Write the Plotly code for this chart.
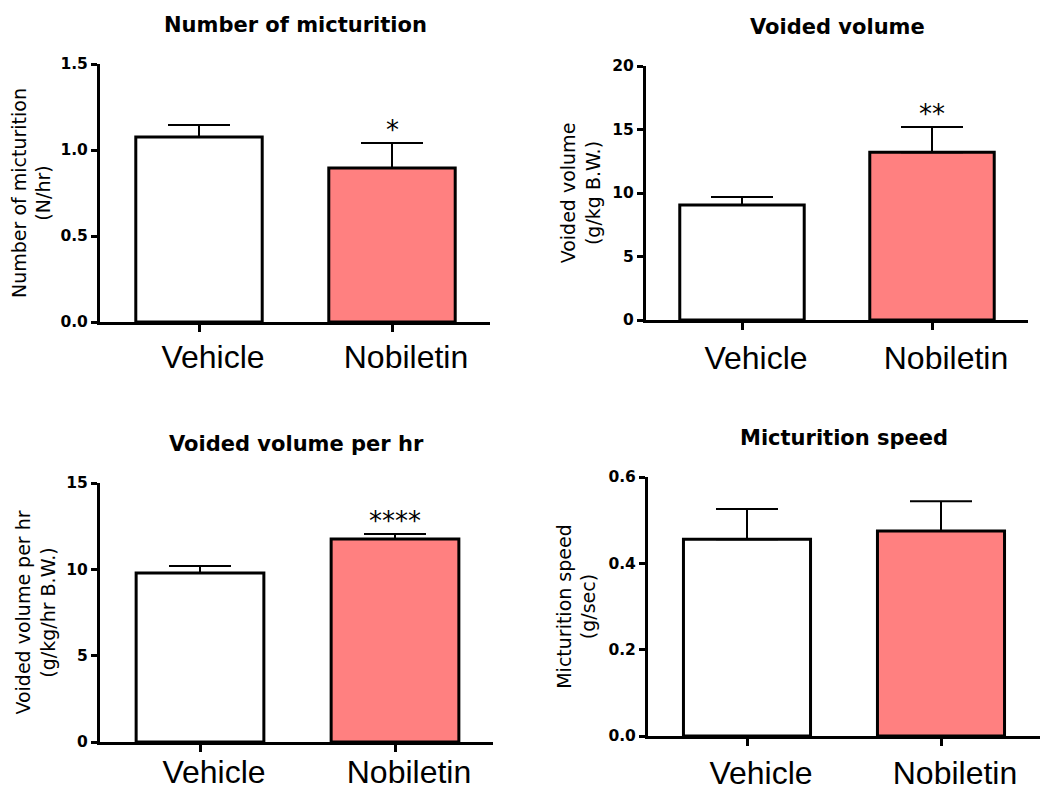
import plotly.graph_objects as go

# ---------------- data ----------------
groups = ["Vehicle", "Nobiletin"]
panel_titles = ["Number of micturition", "Voided volume",
                "Voided volume per hr", "Micturition speed"]
y_titles = ["Number of micturition<br>(N/hr)", "Voided volume<br>(g/kg B.W.)",
            "Voided volume per hr<br>(g/kg/hr B.W.)", "Micturition speed<br>(g/sec)"]

micturition_number = [1.075, 0.895]
micturition_number_err = [0.07, 0.145]
voided_volume = [9.06, 13.2]
voided_volume_err = [0.63, 2.0]
voided_volume_hr = [9.79, 11.76]
voided_volume_hr_err = [0.40, 0.29]
micturition_speed = [0.456, 0.475]
micturition_speed_err = [0.070, 0.069]

significance = [["", "*"], ["", "**"], ["", "****"], ["", ""]]

y_ranges = [[0, 1.5], [0, 20], [0, 15], [0, 0.6]]
y_dticks = [0.5, 5, 5, 0.2]
y_formats = [".1f", "d", "d", ".1f"]
bar_colors = ["#FFFFFF", "#FF8080"]

values = [micturition_number, voided_volume, voided_volume_hr, micturition_speed]
errors = [micturition_number_err, voided_volume_err, voided_volume_hr_err, micturition_speed_err]

# ---------------- layout geometry (pixels) ----------------
W, H = 1042, 798
# left, right, top, bottom, first tick, second tick
geom = [
    (100, 490, 64, 322, 199, 392),
    (646, 1028, 66, 320, 742, 932),
    (100, 493, 483, 742, 200, 395),
    (648, 1040, 477, 736, 747, 941),
]
title_standoffs = [5, 7, 6, 8]
label_standoffs = [-2, 1, -7, 0]

fig = go.Figure()
layout = dict(
    template="none",
    width=W, height=H,
    margin=dict(l=0, r=0, t=0, b=0, pad=0),
    paper_bgcolor="white", plot_bgcolor="white",
    showlegend=False,
    annotations=[],
)

for i in range(4):
    n = i + 1
    xa = "x" if n == 1 else f"x{n}"
    ya = "y" if n == 1 else f"y{n}"
    left, right, top, bottom, t0, t1 = geom[i]
    sp = t1 - t0
    xr = [(left - t0) / sp, (right - t0) / sp]

    fig.add_trace(go.Bar(
        x=groups, y=values[i],
        xaxis=xa, yaxis=ya,
        width=0.655,
        marker=dict(color=bar_colors, line=dict(color="black", width=3)),
        error_y=dict(type="data", symmetric=False, array=errors[i],
                     arrayminus=[0] * len(groups),
                     thickness=2, width=31, color="black"),
        hoverinfo="skip",
    ))

    layout["xaxis" if n == 1 else f"xaxis{n}"] = dict(
        domain=[left / W, right / W],
        anchor=ya,
        type="category",
        range=xr,
        automargin=False,
        showline=True, linewidth=3, linecolor="black",
        ticks="outside", ticklen=7, tickwidth=2.5, tickcolor="black",
        tickfont=dict(family="Liberation Sans, Arial", size=32, color="black"),
        ticklabelstandoff=label_standoffs[i], ticklabelshift=14,
        showgrid=False, zeroline=False, fixedrange=True,
    )
    layout["yaxis" if n == 1 else f"yaxis{n}"] = dict(
        domain=[(H - bottom) / H, (H - top) / H],
        anchor=xa,
        range=y_ranges[i],
        automargin=False,
        dtick=y_dticks[i], tick0=0, tickformat=y_formats[i],
        showline=True, linewidth=3, linecolor="black",
        ticks="outside", ticklen=6, tickwidth=2.5, tickcolor="black",
        tickfont=dict(family="DejaVu Sans", size=15.5, color="black", weight="bold"),
        title=dict(text=y_titles[i], standoff=title_standoffs[i],
                   font=dict(family="DejaVu Sans", size=19, color="black")),
        showgrid=False, zeroline=False, fixedrange=True,
    )

    # panel title
    layout["annotations"].append(dict(
        text=f"<b>{panel_titles[i]}</b>",
        xref=f"{xa} domain", yref=f"{ya} domain",
        x=0.5, y=1, xanchor="center", yanchor="middle", yshift=39,
        showarrow=False,
        font=dict(family="DejaVu Sans", size=21, color="black"),
    ))

    # significance stars
    for g, v, e, s in zip(groups, values[i], errors[i], significance[i]):
        if s:
            layout["annotations"].append(dict(
                text=s, xref=xa, yref=ya, x=g, y=v + e,
                xanchor="center", yanchor="bottom", yshift=-4,
                showarrow=False,
                font=dict(family="DejaVu Sans", size=26, color="black"),
            ))

fig.update_layout(**layout)
fig.write_html("out.html", config={"displayModeBar": False},
               post_script="document.body.style.margin='0';")
